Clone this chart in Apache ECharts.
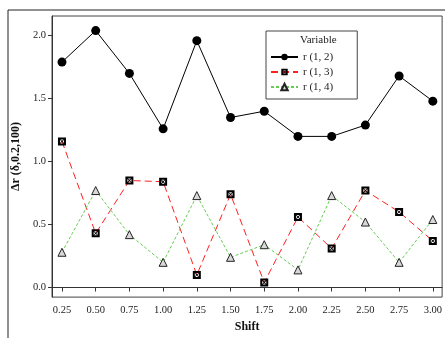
<!DOCTYPE html>
<html>
<head>
<meta charset="utf-8">
<script src="https://cdn.jsdelivr.net/npm/echarts@6/dist/echarts.min.js"></script>
<style>
  html, body { margin: 0; padding: 0; background: #fff; }
  #chart { width: 445px; height: 338px; }
</style>
</head>
<body>
<div id="chart"></div>
<script>
// data
const shifts = [0.25, 0.50, 0.75, 1.00, 1.25, 1.50, 1.75, 2.00, 2.25, 2.50, 2.75, 3.00]
const r12 = [1.79, 2.04, 1.70, 1.26, 1.96, 1.35, 1.40, 1.20, 1.20, 1.29, 1.68, 1.48]
const r13 = [1.16, 0.43, 0.85, 0.84, 0.10, 0.74, 0.04, 0.56, 0.31, 0.77, 0.60, 0.37]
const r14 = [0.28, 0.77, 0.42, 0.20, 0.73, 0.24, 0.34, 0.14, 0.73, 0.52, 0.20, 0.54]
const seriesNames = ['r (1, 2)', 'r (1, 3)', 'r (1, 4)']
const yTicks = [0, 0.5, 1.0, 1.5, 2.0]

const pairs = vals => shifts.map((s, i) => [s, vals[i]])

// black square with four small holes -> looks like a boxed X
const boxX = 'path://M0 0H10V10H0Z M3 2.5L5 4.2L7 2.5Z M3 7.5L7 7.5L5 5.8Z M2.5 3L2.5 7L4.2 5Z M7.5 3L5.8 5L7.5 7Z'

const serif = 'Liberation Serif'
const chart = echarts.init(document.getElementById('chart'))

const option = {
  backgroundColor: '#fff',
  animation: false,
  textStyle: { fontFamily: serif },
  grid: {
    left: 52, top: 16, right: 2, bottom: 36,
    show: true,
    borderColor: '#444',
    borderWidth: 1
  },
  legend: {
    orient: 'vertical',
    left: 266, top: 31,
    padding: [20, 24, 6, 4],
    borderColor: '#444',
    borderWidth: 1,
    itemWidth: 27,
    itemHeight: 8,
    itemGap: 3,
    textStyle: { fontFamily: serif, fontSize: 11, lineHeight: 12, color: '#222' },
    data: seriesNames
  },
  graphic: [
    // outer frame
    { type: 'line', shape: { x1: 8, y1: 10, x2: 8, y2: 338 }, style: { stroke: '#222', lineWidth: 1 } },
    { type: 'line', shape: { x1: 8, y1: 10, x2: 445, y2: 10 }, style: { stroke: '#222', lineWidth: 1 } },
    // legend title
    { type: 'text', left: 300, top: 35, style: { text: 'Variable', font: '11px "Liberation Serif"', fill: '#222' } }
  ],
  xAxis: {
    type: 'value',
    min: 0.176, max: 3.069,
    name: 'Shift',
    nameLocation: 'middle',
    nameGap: 21,
    nameTextStyle: { fontFamily: serif, fontWeight: 'bold', fontSize: 12, color: '#111' },
    axisLine: { lineStyle: { color: '#333' } },
    axisTick: { show: true, length: 4, customValues: shifts, lineStyle: { color: '#333' } },
    axisLabel: {
      customValues: shifts,
      margin: 8,
      fontSize: 10.5,
      color: '#222',
      formatter: v => v.toFixed(2)
    },
    splitLine: { show: false }
  },
  yAxis: {
    type: 'value',
    min: -0.076, max: 2.156,
    name: 'Δr (δ,0.2,100)',
    nameLocation: 'middle',
    nameGap: 26,
    nameTextStyle: { fontFamily: serif, fontWeight: 'bold', fontSize: 12, color: '#111' },
    axisLine: { show: true, lineStyle: { color: '#333' } },
    axisTick: { show: true, length: 4, customValues: yTicks, lineStyle: { color: '#333' } },
    axisLabel: {
      customValues: yTicks,
      margin: 6,
      fontSize: 10.5,
      color: '#222',
      formatter: v => v.toFixed(1)
    },
    splitLine: { show: false }
  },
  series: [
    {
      name: seriesNames[0],
      type: 'line',
      data: pairs(r12),
      symbol: 'circle',
      symbolSize: 9,
      lineStyle: { color: '#000', width: 1 },
      itemStyle: { color: '#000' }
    },
    {
      name: seriesNames[1],
      type: 'line',
      data: pairs(r13),
      symbol: boxX,
      symbolSize: 8,
      lineStyle: { color: '#ff2020', width: 1, type: [7, 4] },
      itemStyle: { color: '#000' }
    },
    {
      name: seriesNames[2],
      type: 'line',
      data: pairs(r14),
      symbol: 'triangle',
      symbolSize: 8,
      lineStyle: { color: '#66cc55', width: 1, type: [3, 2] },
      itemStyle: { color: '#d8d8d8', borderColor: '#222', borderWidth: 1 }
    }
  ]
}

chart.setOption(option)
</script>
</body>
</html>
